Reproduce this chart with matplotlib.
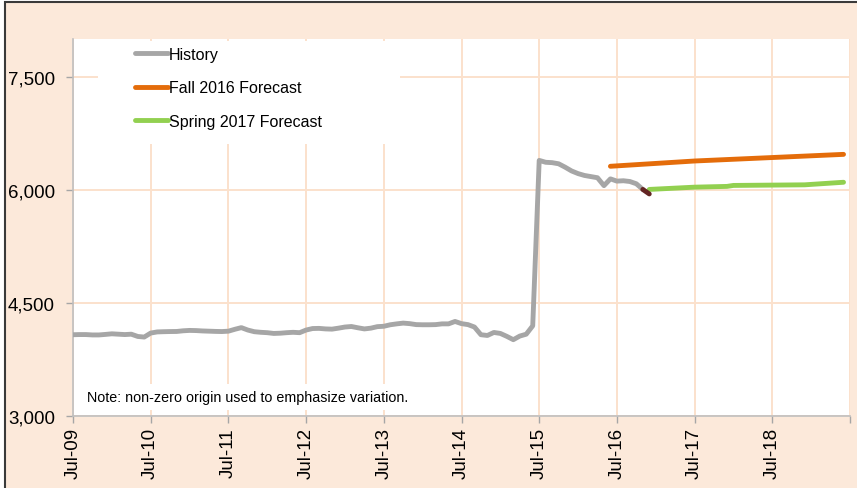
import matplotlib.pyplot as plt
from matplotlib.patches import Rectangle
import numpy as np

plt.rcParams['font.family'] = ['Liberation Sans', 'DejaVu Sans']

# Monthly history starting Jul-09 (month 0)
history = [4078, 4080, 4080, 4075, 4075, 4082, 4090, 4085, 4080, 4085, 4055, 4047,
           4100, 4115, 4118, 4120, 4121, 4130, 4135, 4133, 4128, 4125, 4122, 4120,
           4125, 4150, 4172, 4140, 4118, 4110, 4105, 4095, 4098, 4105, 4110, 4105,
           4140, 4160, 4162, 4155, 4152, 4165, 4180, 4187, 4170, 4155, 4165, 4185,
           4190, 4210, 4222, 4232, 4225, 4212, 4210, 4210, 4212, 4222, 4222, 4254,
           4225, 4212, 4180, 4078, 4068, 4108, 4095, 4056, 4012, 4060, 4085, 4196,
           6390, 6365, 6360, 6345, 6300, 6250, 6215, 6190, 6175, 6160, 6055, 6145,
           6115, 6120, 6110, 6080, 6005]
recent_months = [88, 89]
recent = [6005, 5945]

fall_months = [83, 96, 108, 119]
fall = [6312, 6382, 6428, 6470]

spring_months = [89, 96, 101, 102, 113, 119]
spring = [6005, 6035, 6045, 6058, 6066, 6100]

tick_months = [0, 12, 24, 36, 48, 60, 72, 84, 96, 108, 120]
tick_labels = ['Jul-09', 'Jul-10', 'Jul-11', 'Jul-12', 'Jul-13', 'Jul-14',
               'Jul-15', 'Jul-16', 'Jul-17', 'Jul-18', '']
y_ticks = [3000, 4500, 6000, 7500]

bg = '#FCE9DA'
grid_c = '#FBE1CC'
W, H = 857, 489

fig = plt.figure(figsize=(W / 100, H / 100), dpi=100, facecolor='white')
# chart area frame (only left and top edges are inside the picture)
fig.patches.append(Rectangle((5 / W, -0.1), 1.2, 1.1 - 3 / H,
                             transform=fig.transFigure, facecolor=bg,
                             edgecolor='#3a3a3a', lw=1.5, zorder=-10))
ax = fig.add_axes([73 / W, 1 - 417 / H, 777 / W, 377 / H])
ax.set_facecolor('white')
ax.set_axisbelow(True)

ax.plot(np.arange(len(history)), history, color='#A6A6A6', lw=3.5,
        solid_capstyle='round', solid_joinstyle='round', label='History', zorder=3)
ax.plot(fall_months, fall, color='#E46C0A', lw=3.5, solid_capstyle='round',
        label='Fall 2016 Forecast', zorder=3)
ax.plot(spring_months, spring, color='#92D050', lw=3.5, solid_capstyle='round',
        label='Spring 2017 Forecast', zorder=3)
ax.plot(recent_months, recent, color='#632523', lw=3.5, solid_capstyle='round', zorder=4)

ax.set_xlim(0, 120)
ax.set_ylim(3000, 8000)
ax.set_xticks(tick_months)
ax.set_xticklabels(tick_labels, rotation=90, fontsize=13.5)
ax.set_yticks(y_ticks)
ax.set_yticklabels([f'{v:,}' for v in y_ticks], fontsize=13.5)
ax.tick_params(axis='both', length=5, color='#A6A6A6', width=1)
ax.tick_params(axis='y', pad=8)
ax.tick_params(axis='x', pad=3)
ax.grid(True, color=grid_c, lw=1.4)

for s in ('top', 'right'):
    ax.spines[s].set_visible(False)
for s in ('left', 'bottom'):
    ax.spines[s].set_color('#BFBFBF')
    ax.spines[s].set_linewidth(1.2)

# white legend area hiding the gridlines
ax.add_patch(Rectangle((98 / W, 1 - 145 / H), 302 / W, 103 / H,
                       transform=fig.transFigure, facecolor='white',
                       edgecolor='none', zorder=1))

ax.legend(loc='upper left', bbox_to_anchor=(122 / W, 1 - 35 / H),
          bbox_transform=fig.transFigure, frameon=False, fontsize=11.5,
          handlelength=2.1, handletextpad=0.05, labelspacing=1.15,
          borderpad=0.3)

ax.text(87 / W, 1 - 398 / H, 'Note: non-zero origin used to emphasize variation.',
        transform=fig.transFigure, fontsize=10.3, va='center', ha='left', zorder=5,
        bbox=dict(facecolor='white', edgecolor='none', pad=4))

plt.savefig('out.png', dpi=100, facecolor=fig.get_facecolor())
